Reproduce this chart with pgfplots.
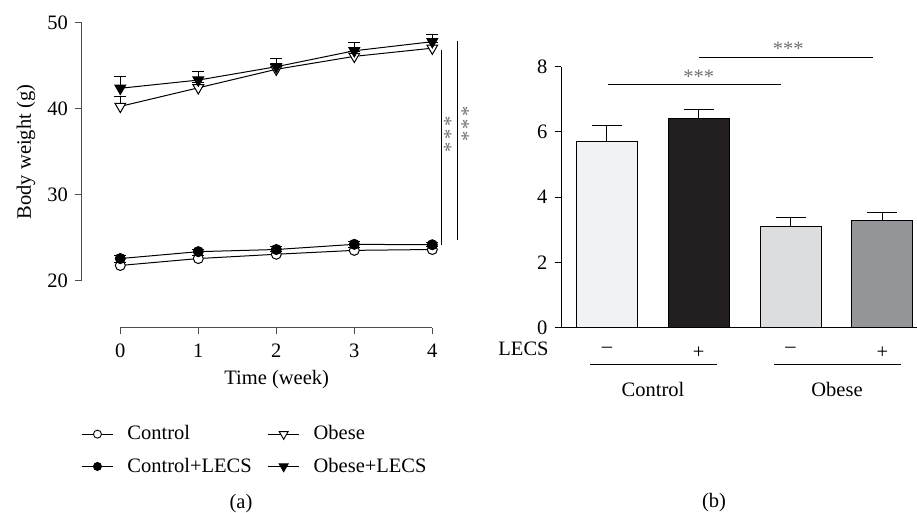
\documentclass[border=0pt]{standalone}
\usepackage{pgfplots}
\pgfplotsset{compat=1.18}
\usepackage{fontspec}
\setmainfont{Liberation Serif}
\definecolor{barA}{HTML}{F1F2F3}
\definecolor{barB}{HTML}{231F20}
\definecolor{barC}{HTML}{DCDDDE}
\definecolor{barD}{HTML}{939598}
\definecolor{axgray}{HTML}{4D4D4D}
\definecolor{stargray}{HTML}{707070}
\begin{document}
\fontsize{20.5}{24}\selectfont
\begin{tikzpicture}
\useasboundingbox (0pt,0pt) rectangle (917pt,-512pt);
% ---------------- panel (a) ----------------
\begin{axis}[
  at={(81.3pt,-327.7pt)}, anchor=south west,
  scale only axis, width=390pt, height=305.4pt,
  xmin=-0.5, xmax=4.5, ymin=14.58, ymax=50,
  axis x line*=bottom, axis y line*=left,
  axis line style={draw=none},
  xtick={0,1,2,3,4}, ytick={20,30,40,50},
  tick align=outside, major tick length=6.5pt,
  tick style={axgray, line width=1pt},
  xticklabel style={yshift=-3pt},
  /pgf/number format/assume math mode=true,
  clip=false,
  legend columns=2,
  legend cell align=left,
  legend style={draw=none, fill=none, inner sep=0pt,
    at={(axis description cs:0,-0.313)}, anchor=north west,
    /tikz/every odd column/.append style={column sep=12pt},
    /tikz/every even column/.append style={column sep=14pt},
    row sep=11pt},
  legend image code/.code={\draw[mark repeat=2,mark phase=2,line width=0.9pt] plot coordinates {(0pt,0pt) (15.5pt,0pt) (31pt,0pt)};},
]
\draw[axgray, line width=1pt] (axis cs:-0.5,20) -- (axis cs:-0.5,50);
\draw[axgray, line width=1pt] (axis cs:0,14.58) -- (axis cs:4,14.58);
% Control
\addplot[black, line width=1pt, mark=*, mark size=5pt, mark options={fill=white},
  legend image post style={mark size=4pt},
  error bars/.cd, y dir=plus, y explicit,
  error bar style={line width=1pt},
  error mark options={rotate=90, mark size=6pt, line width=1pt, black}]
  coordinates {(0,21.8) +- (0,0.3) (1,22.6) +- (0,0.3) (2,23.1) +- (0,0.3) (3,23.55) +- (0,0.3) (4,23.65) +- (0,0.3)};
\addlegendentry{Control}
% Obese
\addplot[black, line width=1pt, mark=triangle*, mark size=6.2pt, mark options={fill=white, rotate=180},
  legend image post style={mark size=5.2pt},
  error bars/.cd, y dir=plus, y explicit,
  error bar style={line width=1pt},
  error mark options={rotate=90, mark size=6pt, line width=1pt, black}]
  coordinates {(0,40.25) +- (0,1.2) (1,42.4) +- (0,0.6) (2,44.55) +- (0,0.6) (3,46.05) +- (0,0.6) (4,47.0) +- (0,0.6)};
\addlegendentry{Obese}
% Control+LECS
\addplot[black, line width=1pt, mark=*, mark size=5pt, mark options={fill=black},
  legend image post style={mark size=4pt},
  error bars/.cd, y dir=plus, y explicit,
  error bar style={line width=1pt},
  error mark options={rotate=90, mark size=6pt, line width=1pt, black}]
  coordinates {(0,22.6) +- (0,0.3) (1,23.4) +- (0,0.3) (2,23.65) +- (0,0.3) (3,24.25) +- (0,0.3) (4,24.2) +- (0,0.3)};
\addlegendentry{Control+LECS}
% Obese+LECS
\addplot[black, line width=1pt, mark=triangle*, mark size=6.2pt, mark options={fill=black, rotate=180},
  legend image post style={mark size=5.2pt},
  error bars/.cd, y dir=plus, y explicit,
  error bar style={line width=1pt},
  error mark options={rotate=90, mark size=6pt, line width=1pt, black}]
  coordinates {(0,42.35) +- (0,1.35) (1,43.3) +- (0,1.0) (2,44.85) +- (0,0.95) (3,46.7) +- (0,0.9) (4,47.75) +- (0,0.85)};
\addlegendentry{Obese+LECS}
% significance
\draw[black, line width=1pt] (axis cs:4.118,46.79) -- (axis cs:4.118,24.17);
\draw[black, line width=1pt] (axis cs:4.320,47.87) -- (axis cs:4.320,24.75);
\node[stargray, rotate=90, inner sep=0pt] at (axis cs:4.235,36.99) {*\kern2.5pt*\kern2.5pt*};
\node[stargray, rotate=90, inner sep=0pt] at (axis cs:4.460,38.2) {*\kern2.5pt*\kern2.5pt*};
\end{axis}
\node at (276.7pt,-380pt) {Time (week)};
\node[rotate=90] at (26pt,-152pt) {Body weight (g)};
\node at (241pt,-504pt) {(a)};
% ---------------- panel (b) ----------------
\begin{axis}[
  at={(561pt,-327.7pt)}, anchor=south west,
  scale only axis, width=356pt, height=261pt,
  xmin=-0.5, xmax=3.378, ymin=0, ymax=8,
  axis x line*=bottom, axis y line*=left,
  axis line style={draw=none},
  ytick={0,2,4,6,8}, xtick={0,1,2,3},
  xticklabels={\textendash,+,\textendash,+},
  xticklabel style={yshift=-6pt},
  tick align=outside, major tick length=6.5pt,
  y tick style={black, line width=1pt},
  x tick style={draw=none},
  /pgf/number format/assume math mode=true,
  clip=false,
]
\draw[black, line width=1pt] (axis cs:-0.5,0) -- (axis cs:-0.5,8);
\draw[black, line width=1pt] (axis cs:-0.565,0) -- (axis cs:3.378,0);
\addplot[ybar, bar width=61pt, bar shift=0pt, fill=barA, draw=black, line width=1pt,
  error bars/.cd, y dir=plus, y explicit, error bar style={line width=1pt},
  error mark options={rotate=90, mark size=15pt, line width=1pt, black}]
  coordinates {(0,5.70) +- (0,0.50)};
\addplot[ybar, bar width=61pt, bar shift=0pt, fill=barB, draw=black, line width=1pt,
  error bars/.cd, y dir=plus, y explicit, error bar style={line width=1pt},
  error mark options={rotate=90, mark size=15pt, line width=1pt, black}]
  coordinates {(1,6.42) +- (0,0.28)};
\addplot[ybar, bar width=61pt, bar shift=0pt, fill=barC, draw=black, line width=1pt,
  error bars/.cd, y dir=plus, y explicit, error bar style={line width=1pt},
  error mark options={rotate=90, mark size=15pt, line width=1pt, black}]
  coordinates {(2,3.10) +- (0,0.29)};
\addplot[ybar, bar width=61pt, bar shift=0pt, fill=barD, draw=black, line width=1pt,
  error bars/.cd, y dir=plus, y explicit, error bar style={line width=1pt},
  error mark options={rotate=90, mark size=15pt, line width=1pt, black}]
  coordinates {(3,3.30) +- (0,0.23)};
\draw[black, line width=1pt] (axis cs:0.01,7.44) -- (axis cs:1.90,7.44);
\draw[black, line width=1pt] (axis cs:1.003,8.28) -- (axis cs:2.90,8.28);
\node[anchor=base, inner sep=0pt, stargray] at (axis cs:1.0,7.50) {***};
\node[anchor=base, inner sep=0pt, stargray] at (axis cs:1.976,8.34) {***};
\end{axis}
\node at (523.5pt,-349pt) {LECS};
\draw[black, line width=1pt] (590pt,-364.3pt) -- (716.7pt,-364.3pt);
\draw[black, line width=1pt] (774.3pt,-364.3pt) -- (900.7pt,-364.3pt);
\node at (653pt,-389pt) {Control};
\node at (837pt,-389pt) {Obese};
\node at (714pt,-503pt) {(b)};
\end{tikzpicture}
\end{document}
